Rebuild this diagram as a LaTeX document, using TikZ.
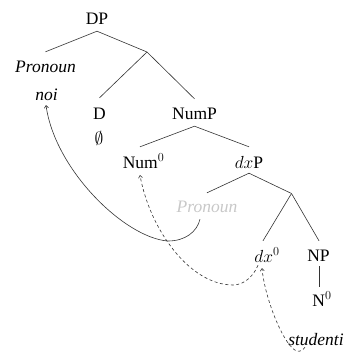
\RequirePackage{fix-cm}
\documentclass[tikz,border=0pt]{standalone}
\usepackage{fontspec}
\setmainfont{Liberation Serif}
\usetikzlibrary{arrows.meta}
\definecolor{linec}{HTML}{333333}
\definecolor{ghost}{HTML}{C8C8C8}
\begin{document}
\begin{tikzpicture}[x=1pt,y=-1pt,
  lbl/.style={anchor=base, inner sep=0pt, text height=11pt, text depth=0pt, font=\fontsize{17.5}{21}\selectfont},
  branch/.style={draw=linec, line width=0.6pt},
  mv/.style={draw=linec, line width=0.6pt, -{To[length=3pt,width=4.5pt]}},
  dmv/.style={mv, dash pattern=on 3pt off 2.5pt}]
\useasboundingbox (0,0) rectangle (352,364);
% nodes
\node[lbl] (DP) at (97,24.5) {DP};
\node[lbl] (pron1) at (45.5,72) {\itshape Pronoun};
\node[lbl] (noi) at (46.5,100) {\itshape noi};
\node[lbl] (D) at (99.5,119) {D};
\node[lbl] (empty) at (99,144) {$\emptyset$};
\coordinate (j1) at (147,52);
\node[lbl] (NumP) at (194.5,119) {NumP};
\node[lbl] (Num0) at (143.5,168) {Num$^0$};
\node[lbl] (dxP) at (249,168) {$dx$P};
\node[lbl, text=ghost] (pron2) at (207,212) {\itshape Pronoun};
\coordinate (j2) at (291.5,193.5);
\node[lbl] (dx0) at (267,262) {$dx^0$};
\node[lbl] (NP) at (318.5,261) {NP};
\node[lbl] (N0) at (322,306) {N$^0$};
\node[lbl] (stud) at (316,345) {\itshape studenti};
% branches
\draw[branch] ([yshift=-6.5pt]DP.south) -- ([yshift=9pt]pron1.north);
\draw[branch] ([yshift=-6.5pt]DP.south) -- (j1);
\draw[branch] (j1) -- ([yshift=10pt]D.north);
\draw[branch] (j1) -- ([yshift=9pt]NumP.north);
\draw[branch] ([yshift=-7pt]NumP.south) -- ([xshift=-3.5pt,yshift=10pt]Num0.north);
\draw[branch] ([yshift=-7pt]NumP.south) -- ([yshift=10pt]dxP.north);
\draw[branch] ([yshift=-5pt]dxP.south) -- ([yshift=8pt]pron2.north);
\draw[branch] ([yshift=-5pt]dxP.south) -- (j2);
\draw[branch] (j2) -- ([xshift=-4pt,yshift=10pt]dx0.north);
\draw[branch] (j2) -- ([xshift=0.5pt,yshift=9pt]NP.north);
\draw[branch] ([xshift=0.5pt,yshift=-5pt]NP.south) -- ([xshift=-3pt,yshift=8pt]N0.north);
% movement arrows
\draw[mv] ([xshift=-7pt,yshift=-7pt]pron2.south) .. controls (197,232) and (185,241) .. (168,241)
  .. controls (125,238) and (55,170) .. ([xshift=-0.5pt,yshift=-5pt]noi.south);
\draw[dmv] ([xshift=-9pt,yshift=-3pt]dx0.south) .. controls (254,275) and (245,285) .. (233,285)
  .. controls (190,285) and (150,230) .. ([xshift=-3.5pt,yshift=-7pt]Num0.south);
\draw[dmv] ([xshift=-11pt,yshift=-2pt]stud.south) .. controls (303,350) and (300,352) .. (297,351)
  .. controls (285,348) and (265,300) .. ([xshift=-5pt,yshift=-6pt]dx0.south);
\end{tikzpicture}
\end{document}
